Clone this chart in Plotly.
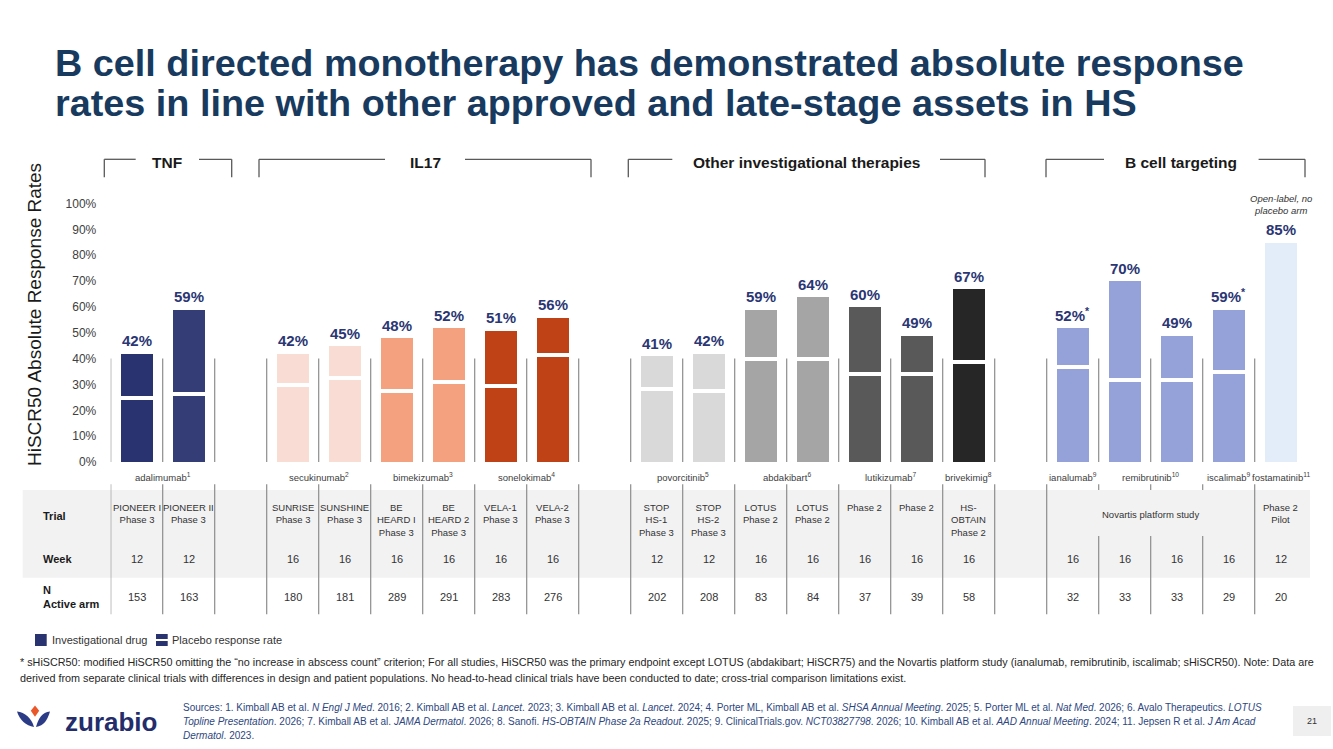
import plotly.graph_objects as go

# ---------------- data ----------------
group_names = ["TNF", "IL17", "Other investigational therapies", "B cell targeting"]
group_sizes = [2, 6, 7, 5]

values = [42, 59, 42, 45, 48, 52, 51, 56, 41, 42, 59, 64, 60, 49, 67, 52, 70, 49, 59, 85]
placebo = [25, 26.5, 30, 32.5, 27.6, 31.2, 29.5, 41.4, 28.3, 27.5, 40, 40, 34.1, 34.1, 38.7,
           37, 31.8, 31.8, 34.9, None]
value_labels = ["42%", "59%", "42%", "45%", "48%", "52%", "51%", "56%", "41%", "42%", "59%",
                "64%", "60%", "49%", "67%", "52%<sup>*</sup>", "70%", "49%", "59%<sup>*</sup>", "85%"]

drug_names = ["adalimumab", "secukinumab", "bimekizumab", "sonelokimab", "povorcitinib",
              "abdakibart", "lutikizumab", "brivekimig", "ianalumab", "remibrutinib",
              "iscalimab", "fostamatinib"]
drug_refs = ["1", "2", "3", "4", "5", "6", "7", "8", "9", "10", "9", "11"]
drug_bars = [[0, 1], [2, 3], [4, 5], [6, 7], [8, 9], [10, 11], [12, 13], [14], [15], [16, 17], [18], [19]]

trial_row = ["PIONEER I<br>Phase 3", "PIONEER II<br>Phase 3",
             "SUNRISE<br>Phase 3", "SUNSHINE<br>Phase 3", "BE<br>HEARD I<br>Phase 3",
             "BE<br>HEARD 2<br>Phase 3", "VELA-1<br>Phase 3", "VELA-2<br>Phase 3",
             "STOP<br>HS-1<br>Phase 3", "STOP<br>HS-2<br>Phase 3", "LOTUS<br>Phase 2",
             "LOTUS<br>Phase 2", "Phase 2", "Phase 2", "HS-<br>OBTAIN<br>Phase 2",
             "", "", "", "", "Phase 2<br>Pilot"]
merged_trial = [(15, 18, "Novartis platform study")]
week_row = [12, 12, 16, 16, 16, 16, 16, 16, 12, 12, 16, 16, 16, 16, 16, 16, 16, 16, 16, 12]
n_row = [153, 163, 180, 181, 289, 291, 283, 276, 202, 208, 83, 84, 37, 39, 58, 32, 33, 33, 29, 20]

tick_values = [0, 10, 20, 30, 40, 50, 60, 70, 80, 90, 100]
tick_labels = ["0%", "10%", "20%", "30%", "40%", "50%", "60%", "70%", "80%", "90%", "100%"]

title_lines = ["B cell directed monotherapy has demonstrated absolute response",
               "rates in line with other approved and late-stage assets in HS"]
footnote_lines = [
    "* sHiSCR50: modified HiSCR50 omitting the \u201cno increase in abscess count\u201d criterion; For all studies, HiSCR50 was the primary endpoint except LOTUS (abdakibart; HiSCR75) and the Novartis platform study (ianalumab, remibrutinib, iscalimab; sHiSCR50). Note: Data are",
    "derived from separate clinical trials with differences in design and patient populations. No head-to-head clinical trials have been conducted to date; cross-trial comparison limitations exist.",
]
source_lines = [
    "Sources: 1. Kimball AB et al. <i>N Engl J Med</i>. 2016; 2. Kimball AB et al. <i>Lancet</i>. 2023; 3. Kimball AB et al. <i>Lancet</i>. 2024; 4. Porter ML, Kimball AB et al. <i>SHSA Annual Meeting</i>. 2025; 5. Porter ML et al. <i>Nat Med</i>. 2026; 6. Avalo Therapeutics. <i>LOTUS</i>",
    "<i>Topline Presentation</i>. 2026; 7. Kimball AB et al. <i>JAMA Dermatol</i>. 2026; 8. Sanofi. <i>HS-OBTAIN Phase 2a Readout</i>. 2025; 9. ClinicalTrials.gov. <i>NCT03827798</i>. 2026; 10. Kimball AB et al. <i>AAD Annual Meeting</i>. 2024; 11. Jepsen R et al. <i>J Am Acad</i>",
    "<i>Dermatol</i>. 2023.",
]

# ---------------- styles ----------------
bar_colors = ["#28336F", "#343D76",
              "#F9DDD4", "#F9DDD4", "#F3A17F", "#F3A17F", "#BF4216", "#BF4216",
              "#D9D9D9", "#D9D9D9", "#A5A5A5", "#A5A5A5", "#595959", "#595959", "#262626",
              "#95A2DA", "#95A2DA", "#95A2DA", "#95A2DA", "#E3ECF9"]
FONT = "Liberation Sans, Arial, sans-serif"
NAVY = "#2B3674"
W, H = 1333, 749


def px(x):
    return x / W


def py(y):
    return 1 - y / H


# slot positions (one blank slot between groups)
slots = []
s = 0
group_slots = []
for g in group_sizes:
    grp = []
    for _ in range(g):
        slots.append(s)
        grp.append(s)
        s += 1
    group_slots.append(grp)
    s += 1

fig = go.Figure()
fig.add_trace(go.Bar(x=slots, y=values, width=0.615,
                     marker=dict(color=bar_colors, line=dict(width=0)),
                     hoverinfo="skip", showlegend=False))
pl_x = [slots[i] for i, p in enumerate(placebo) if p is not None]
pl_base = [p - 0.75 for p in placebo if p is not None]
fig.add_trace(go.Bar(x=pl_x, y=[1.5] * len(pl_x), base=pl_base, width=0.66,
                     marker=dict(color="white", line=dict(width=0)),
                     hoverinfo="skip", showlegend=False))

ann = []
shapes = []


def note(x, y, text, size, color="#333333", xref="paper", yref="paper", xanchor="center",
         yanchor="middle", **kw):
    ann.append(dict(x=x, y=y, xref=xref, yref=yref, text=text, showarrow=False,
                    xanchor=xanchor, yanchor=yanchor,
                    font=dict(family=FONT, size=size, color=color), **kw))


# value labels
for i, v in enumerate(values):
    note(slots[i], v, "<b>%s</b>" % value_labels[i], 15, NAVY, xref="x", yref="y",
         yanchor="bottom", yshift=2)

# drug labels
for name, ref, bars in zip(drug_names, drug_refs, drug_bars):
    xc = sum(slots[b] for b in bars) / len(bars)
    note(xc, py(476.7), "%s<sup>%s</sup>" % (name, ref), 9.5, "#404040", xref="x")

# gray table band
shapes.append(dict(type="rect", xref="paper", yref="paper", x0=px(22.7), x1=px(1310),
                   y0=py(577.7), y1=py(490), fillcolor="#F2F2F2", line=dict(width=0), layer="below"))

# separators
merged_inner = set()
for a, b, _ in merged_trial:
    for k in range(a + 1, b + 1):
        merged_inner.add(slots[k] - 0.5)
for gi, grp in enumerate(group_slots):
    edges = [x - 0.5 for x in grp]
    if gi < len(group_slots) - 1:
        edges.append(grp[-1] + 0.5)
    for e in edges:
        lc = dict(color="#8C8C8C", width=1.2)
        shapes.append(dict(type="line", xref="x", yref="y", x0=e, x1=e, y0=0, y1=40,
                           line=lc, layer="below"))
        if e in merged_inner:
            shapes.append(dict(type="line", xref="x", yref="paper", x0=e, x1=e,
                               y0=py(490), y1=py(484.3), line=lc))
            shapes.append(dict(type="line", xref="x", yref="paper", x0=e, x1=e,
                               y0=py(614.3), y1=py(536), line=lc))
        else:
            shapes.append(dict(type="line", xref="x", yref="paper", x0=e, x1=e,
                               y0=py(614.3), y1=py(484.3), line=lc))

# table texts
for i in range(len(values)):
    if trial_row[i]:
        note(slots[i], py(500), trial_row[i], 9.5, xref="x", yanchor="top")
    note(slots[i], py(559), str(week_row[i]), 11, xref="x")
    note(slots[i], py(596.7), str(n_row[i]), 11, xref="x")
for a, b, t in merged_trial:
    note((slots[a] + slots[b]) / 2, py(514), t, 9.5, xref="x")

note(px(41), py(516), "<b>Trial</b>", 11, "#1A1A1A", xanchor="left")
note(px(41), py(559), "<b>Week</b>", 11, "#1A1A1A", xanchor="left")
note(px(41), py(597), "<b>N<br>Active arm</b>", 11, "#1A1A1A", xanchor="left", align="left")

# header brackets
brackets = [(104.3, 135.7, 199, 231.7), (259, 385, 465, 591),
            (628.3, 672.3, 940, 985), (1046, 1104, 1258.6, 1305)]
bc = dict(color="#595959", width=1.3)
for name, (l0, l1, r0, r1) in zip(group_names, brackets):
    yt, yb = py(159.3), py(177.3)
    shapes.append(dict(type="line", xref="paper", yref="paper", x0=px(l0), x1=px(l0), y0=yb, y1=yt, line=bc))
    shapes.append(dict(type="line", xref="paper", yref="paper", x0=px(l0), x1=px(l1), y0=yt, y1=yt, line=bc))
    shapes.append(dict(type="line", xref="paper", yref="paper", x0=px(r0), x1=px(r1), y0=yt, y1=yt, line=bc))
    shapes.append(dict(type="line", xref="paper", yref="paper", x0=px(r1), x1=px(r1), y0=yb, y1=yt, line=bc))
    note(px((l1 + r0) / 2), py(162.3), "<b>%s</b>" % name, 15.5, "#1A1A1A")

# open-label note
note(slots[-1], py(205), "<i>Open-label, no<br>placebo arm</i>", 9.5, xref="x")

# title
for k, t in enumerate(title_lines):
    note(px(53), py(63 + 40 * k), "<b>%s</b>" % t, 37.8, "#173A5E", xanchor="left")

# y-axis title
note(px(35), py(315), "HiSCR50 Absolute Response Rates", 19, "#1A1A1A", textangle=-90)

# legend
shapes.append(dict(type="rect", xref="paper", yref="paper", x0=px(35), x1=px(46.7),
                   y0=py(646), y1=py(634), fillcolor="#28336F", line=dict(width=0)))
shapes.append(dict(type="rect", xref="paper", yref="paper", x0=px(156), x1=px(167.7),
                   y0=py(646), y1=py(634), fillcolor="#28336F", line=dict(width=0)))
shapes.append(dict(type="rect", xref="paper", yref="paper", x0=px(155.5), x1=px(168.2),
                   y0=py(641), y1=py(639), fillcolor="white", line=dict(width=0)))
note(px(49.5), py(640), "Investigational drug", 11, xanchor="left")
note(px(170.2), py(640), "Placebo response rate", 11, xanchor="left")

# footnotes
for k, t in enumerate(footnote_lines):
    note(px(17.5), py(662 + 16 * k), t, 10.8, "#262626", xanchor="left")
for k, t in enumerate(source_lines):
    note(px(180.5), py(707 + 14.3 * k), t, 10, "#2E4780", xanchor="left")

# page number
shapes.append(dict(type="rect", xref="paper", yref="paper", x0=px(1293), x1=px(1331),
                   y0=py(736), y1=py(706), fillcolor="#EFEFEF", line=dict(width=0)))
note(px(1312), py(721), "21", 9)


# logo
def path(pts, cmds):
    out = []
    it = iter(pts)
    for c in cmds:
        if c == "Z":
            out.append("Z")
            continue
        n = {"M": 1, "L": 1, "Q": 2, "C": 3}[c]
        coords = []
        for _ in range(n):
            x, y = next(it)
            coords.append("%.5f,%.5f" % (px(x), py(y)))
        out.append(c + " " + " ".join(coords))
    return " ".join(out)


orange = path([(35, 705.5), (39.2, 710.8), (35, 716.8), (30.8, 710.8)], "MLLLZ")
lw = path([(17, 711.5), (25, 712.5), (31.5, 718), (34, 727), (26, 725.5), (19.5, 720), (17, 711.5)], "MCCZ")
rw = path([(50, 711.5), (42, 712.5), (38.5, 718), (36, 727), (44, 725.5), (47.5, 720), (50, 711.5)], "MCCZ")
shapes.append(dict(type="path", xref="paper", yref="paper", path=orange, fillcolor="#E9572B", line=dict(width=0)))
shapes.append(dict(type="path", xref="paper", yref="paper", path=lw, fillcolor="#2C3B86", line=dict(width=0)))
shapes.append(dict(type="path", xref="paper", yref="paper", path=rw, fillcolor="#2C3B86", line=dict(width=0)))
note(px(63), py(721.5), "<b>zurabio</b>", 26, "#232D6B", xanchor="left")

fig.update_layout(
    template="none",
    width=W, height=H, autosize=False,
    margin=dict(l=0, r=0, t=0, b=0, pad=0, autoexpand=False),
    paper_bgcolor="white", plot_bgcolor="white",
    barmode="overlay", bargap=0,
    showlegend=False,
    xaxis=dict(domain=[px(110.7), px(1306.7)], range=[-0.5, 22.5], visible=False,
               fixedrange=True, automargin=False),
    yaxis=dict(domain=[py(462), py(462 - 110 * 2.585)], range=[0, 110], automargin=False,
               tickvals=tick_values, ticktext=tick_labels, ticks="outside", ticklen=11,
               tickcolor="rgba(0,0,0,0)", showgrid=False, zeroline=False, showline=False,
               tickfont=dict(family=FONT, size=12, color="#404040"), fixedrange=True),
    annotations=ann, shapes=shapes,
    font=dict(family=FONT),
)

fig.write_html("out.html", config={"displayModeBar": False},
               post_script="document.body.style.margin='0';")
